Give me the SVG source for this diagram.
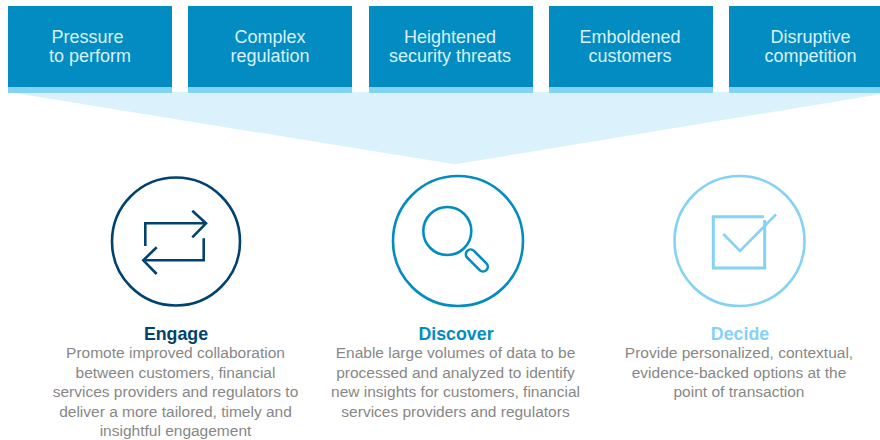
<svg xmlns="http://www.w3.org/2000/svg" width="880" height="440" viewBox="0 0 880 440">
<style>
.box{fill:#028cc2}
.strip{fill:#84d2f6}
.bt{font-family:"Liberation Sans",Arial,sans-serif;font-size:18px;fill:#d9f1fb;text-anchor:middle}
.ti{font-family:"Liberation Sans",Arial,sans-serif;font-size:17.8px;font-weight:bold;text-anchor:middle}
.de{font-family:"Liberation Sans",Arial,sans-serif;font-size:15.5px;fill:#878787;text-anchor:middle}
.ic{fill:none;stroke-width:2.6}
</style>
<rect width="880" height="440" fill="#fff"/>
<polygon id="funnel" points="8,92 893,92 457,164 453,164" fill="#dbf2fd"/>
<g id="box1"><rect class="box" x="8" y="6" width="164" height="81"/><rect class="strip" x="8" y="87" width="164" height="6"/><text class="bt"><tspan x="87.500" y="43">Pressure</tspan><tspan x="90" y="62">to perform</tspan></text></g>
<g id="box2"><rect class="box" x="188" y="6" width="164" height="81"/><rect class="strip" x="188" y="87" width="164" height="6"/><text class="bt"><tspan x="270" y="43">Complex</tspan><tspan x="270" y="62">regulation</tspan></text></g>
<g id="box3"><rect class="box" x="369" y="6" width="164" height="81"/><rect class="strip" x="369" y="87" width="164" height="6"/><text class="bt"><tspan x="450" y="43">Heightened</tspan><tspan x="450" y="62">security threats</tspan></text></g>
<g id="box4"><rect class="box" x="549" y="6" width="164" height="81"/><rect class="strip" x="549" y="87" width="164" height="6"/><text class="bt"><tspan x="630" y="43">Emboldened</tspan><tspan x="630" y="62">customers</tspan></text></g>
<g id="box5"><rect class="box" x="729" y="6" width="151" height="81"/><rect class="strip" x="729" y="87" width="151" height="6"/><text class="bt"><tspan x="810.500" y="43">Disruptive</tspan><tspan x="810.500" y="62">competition</tspan></text></g>
<g id="engage">
<g class="ic" stroke="#004371"><circle cx="176" cy="241.500" r="64"/><path d="M145.300 246V223.300H206M192.300 210.700L206 223.300L192.300 237.300M203.700 238.300V260.300H143.300M156.700 247.300L143.300 260.300L156.700 274"/></g>
<text class="ti" x="176" y="340" fill="#004371">Engage</text>
<text class="de"><tspan x="175.500" y="358">Promote improved collaboration</tspan><tspan x="175.500" y="377.500">between customers, financial</tspan><tspan x="175.500" y="397">services providers and regulators to</tspan><tspan x="175.500" y="416.500">deliver a more tailored, timely and</tspan><tspan x="175.500" y="436">insightful engagement</tspan></text>
</g>
<g id="discover">
<g class="ic" stroke="#028cc2"><circle cx="458" cy="241" r="65"/><circle cx="447.300" cy="231" r="24"/><rect x="463.500" y="255.800" width="27" height="9.500" rx="4.700" transform="rotate(45 477 260.300)"/></g>
<text class="ti" x="456" y="340" fill="#028cc2">Discover</text>
<text class="de"><tspan x="455.500" y="358">Enable large volumes of data to be</tspan><tspan x="455.500" y="377.500">processed and analyzed to identify</tspan><tspan x="455.500" y="397">new insights for customers, financial</tspan><tspan x="455.500" y="416.500">services providers and regulators</tspan></text>
</g>
<g id="decide">
<g class="ic" stroke="#84d2f6"><circle cx="739.500" cy="241" r="65"/><path stroke-width="3" d="M764.700 220V268H713.300V216.700H764"/><path d="M723.300 234L740 251L776 214.300"/></g>
<text class="ti" x="740" y="340" fill="#84d2f6">Decide</text>
<text class="de"><tspan x="739" y="358">Provide personalized, contextual,</tspan><tspan x="739" y="377.500">evidence-backed options at the</tspan><tspan x="739" y="397">point of transaction</tspan></text>
</g>
</svg>
